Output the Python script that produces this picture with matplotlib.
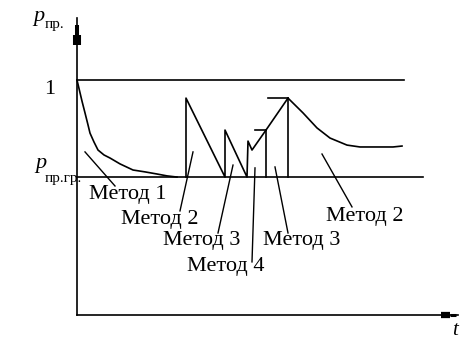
import numpy as np
import matplotlib.pyplot as plt

#==============================================================================
#- Datos (t en unidades arbitrarias, p relativo)
#==============================================================================
p_gr = 0.587
t_linea_1 = [0.0, 32.7]
t_linea_gr = [0.0, 34.6]

# Metodo 1: caida desde 1
t_metodo1 = [0.0, 0.5, 0.8, 1.1, 1.3, 1.7, 2.1, 2.7, 3.3, 4.3, 5.6, 6.8, 8.0, 9.0, 10.0]
p_metodo1 = [1.0, 0.910, 0.860, 0.809, 0.774, 0.736, 0.702, 0.681, 0.668, 0.643,
             0.617, 0.609, 0.600, 0.592, 0.587]

# Dientes de sierra (metodos 2, 3, 4) y caida final
t_sierra = [10.9, 10.9, 14.8, 14.8, 17.0, 17.1, 17.5, 18.9, 21.1,
            22.6, 24.0, 25.3, 27.0, 28.3, 31.6, 32.5]
p_sierra = [0.587, 0.923, 0.587, 0.787, 0.587, 0.740, 0.702, 0.787, 0.923,
            0.860, 0.796, 0.753, 0.723, 0.715, 0.715, 0.719]

# tramos horizontales y verticales
t_tope3 = [17.8, 18.9]
t_tope2 = [19.1, 21.1]
t_vert = [18.9, 21.1]
p_vert = [0.787, 0.923]

# etiquetas de metodos: texto, punta de la linea, extremo, posicion texto
etiquetas = ['Метод 1', 'Метод 2', 'Метод 3', 'Метод 4', 'Метод 3', 'Метод 2']
lider_ini = [(0.8, 0.694), (11.6, 0.694), (15.6, 0.638), (17.8, 0.626), (19.8, 0.630), (24.5, 0.685)]
lider_fin = [(3.8, 0.549), (10.3, 0.443), (14.1, 0.349), (17.5, 0.226), (21.1, 0.349), (27.5, 0.460)]
pos_texto = [(5.1, 0.512), (8.3, 0.406), (12.5, 0.317), (14.9, 0.208), (22.5, 0.317), (28.8, 0.421)]

#==============================================================================
#- Figura
#==============================================================================
fig = plt.figure(figsize=(4.61, 3.41), dpi=100)
ax = fig.add_axes([0, 0, 1, 1])
ax.set_xlim(-7.7, 38.4)
ax.set_ylim(-0.1106, 1.3404)
ax.axis('off')

lw = 1.2
# ejes
ax.plot([0, 0], [0, 1.264], 'k-', lw=lw)
ax.plot([0, 0], [1.149, 1.191], 'k-', lw=5.8, solid_capstyle='butt')
ax.plot([0, 0], [1.191, 1.234], 'k-', lw=2.9, solid_capstyle='butt')
ax.plot([0, 38.1], [0, 0], 'k-', lw=lw)
ax.plot([36.4, 37.3], [0, 0], 'k-', lw=4.5, solid_capstyle='butt')
ax.plot([37.3, 37.9], [0, 0], 'k-', lw=2.2, solid_capstyle='butt')

# niveles
ax.plot(t_linea_1, [1, 1], 'k-', lw=lw)
ax.plot(t_linea_gr, [p_gr, p_gr], 'k-', lw=lw)

ax.plot(t_metodo1, p_metodo1, 'k-', lw=lw)
ax.plot(t_sierra, p_sierra, 'k-', lw=lw)
ax.plot(t_tope3, [0.787, 0.787], 'k-', lw=lw)
ax.plot(t_tope2, [0.923, 0.923], 'k-', lw=lw)
for t, p in zip(t_vert, p_vert):
    ax.plot([t, t], [p_gr, p], 'k-', lw=lw)

fuente = 'Liberation Serif'
for txt, a, b, c in zip(etiquetas, lider_ini, lider_fin, pos_texto):
    ax.plot([a[0], b[0]], [a[1], b[1]], 'k-', lw=1.0)
    ax.text(c[0], c[1], txt, family=fuente, fontsize=16, ha='center', va='center')

# rotulos de ejes
ax.text(-2.7, 0.96, '1', family=fuente, fontsize=16, ha='center', va='center')
ax.text(-3.8, 1.272, 'p', family=fuente, style='italic', fontsize=16, ha='center', va='center')
ax.text(-3.25, 1.238, 'пр.', family=fuente, fontsize=11, ha='left', va='center')
ax.text(-3.6, 0.643, 'p', family=fuente, style='italic', fontsize=16, ha='center', va='center')
ax.text(-3.25, 0.580, 'пр.гр.', family=fuente, fontsize=11, ha='left', va='center')
ax.text(37.8, -0.065, 't', family=fuente, style='italic', fontsize=15, ha='center', va='center')

plt.savefig('out.png', dpi=100)
plt.close()
